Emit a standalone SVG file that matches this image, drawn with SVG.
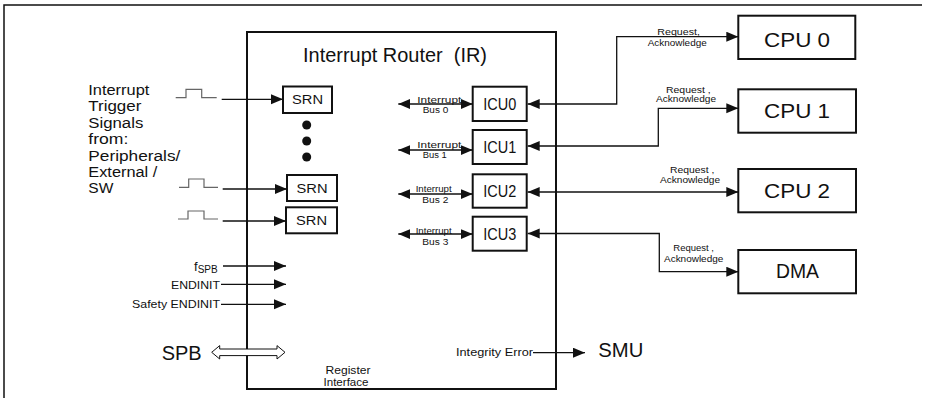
<svg xmlns="http://www.w3.org/2000/svg" width="925" height="398" viewBox="0 0 925 398">
<style>
text{font-family:"Liberation Sans",Arial,sans-serif;fill:#111;}
.box{fill:#fff;stroke:#111;stroke-width:2;}
.ln{fill:none;stroke:#111;stroke-width:1.3;}
.pulse{fill:none;stroke:#666;stroke-width:1.2;}
.big{font-size:19.5px;}
.cpu{font-size:20px;text-anchor:middle;}
.icu{font-size:16px;text-anchor:middle;}
.srn{font-size:12.5px;text-anchor:middle;}
.lbl{font-size:14px;}
.sm{font-size:10.5px;}
.bus{font-size:8.5px;}
.req{font-size:9px;}
</style>
<defs>
<marker id="ah" markerUnits="userSpaceOnUse" markerWidth="13" markerHeight="11" refX="12" refY="5" orient="auto-start-reverse"><path d="M0,0 L12,5 L0,10 z" fill="#111"/></marker>
</defs>
<path d="M4,398 V5 H922" fill="none" stroke="#111" stroke-width="1.5"/>

<g id="ir">
<rect class="box" x="247" y="32" width="309" height="357"/>
<text class="big" x="303" y="61.7" textLength="184" lengthAdjust="spacingAndGlyphs" xml:space="preserve">Interrupt Router  (IR)</text>
<text class="sm" x="348" y="373.5" text-anchor="middle" textLength="45" lengthAdjust="spacingAndGlyphs">Register</text>
<text class="sm" x="346" y="385.5" text-anchor="middle" textLength="45" lengthAdjust="spacingAndGlyphs">Interface</text>
<circle cx="306.7" cy="125" r="4.5" fill="#111"/>
<circle cx="306.7" cy="141" r="4.5" fill="#111"/>
<circle cx="306.7" cy="157" r="4.5" fill="#111"/>
</g>

<g id="srn1"><rect class="box" x="283" y="86.5" width="49" height="26.5"/><text class="srn" x="307.5" y="104" textLength="31" lengthAdjust="spacingAndGlyphs">SRN</text></g>
<g id="srn2"><rect class="box" x="287" y="175" width="50" height="26"/><text class="srn" x="312" y="193" textLength="31" lengthAdjust="spacingAndGlyphs">SRN</text></g>
<g id="srn3"><rect class="box" x="286" y="207.3" width="51" height="26"/><text class="srn" x="311.5" y="225.3" textLength="31" lengthAdjust="spacingAndGlyphs">SRN</text></g>

<g id="icu0"><rect class="box" x="472.7" y="86.7" width="54" height="34.3"/><text class="icu" x="499.7" y="110" textLength="33" lengthAdjust="spacingAndGlyphs">ICU0</text></g>
<g id="icu1"><rect class="box" x="472.7" y="130" width="54" height="34"/><text class="icu" x="499.7" y="153.2" textLength="33" lengthAdjust="spacingAndGlyphs">ICU1</text></g>
<g id="icu2"><rect class="box" x="472.7" y="174.3" width="54" height="33.4"/><text class="icu" x="499.7" y="197" textLength="33" lengthAdjust="spacingAndGlyphs">ICU2</text></g>
<g id="icu3"><rect class="box" x="472.7" y="216.7" width="54" height="34"/><text class="icu" x="499.7" y="239.7" textLength="33" lengthAdjust="spacingAndGlyphs">ICU3</text></g>

<g id="cpu0"><rect class="box" x="738.3" y="15.7" width="117" height="43.3"/><text class="cpu" x="797" y="46.7" textLength="66" lengthAdjust="spacingAndGlyphs">CPU 0</text></g>
<g id="cpu1"><rect class="box" x="738.3" y="89.3" width="117.7" height="43.4"/><text class="cpu" x="797" y="118.3" textLength="66" lengthAdjust="spacingAndGlyphs">CPU 1</text></g>
<g id="cpu2"><rect class="box" x="738.3" y="169" width="117.7" height="43.3"/><text class="cpu" x="797" y="197.7" textLength="66" lengthAdjust="spacingAndGlyphs">CPU 2</text></g>
<g id="dma"><rect class="box" x="738.3" y="250" width="117.7" height="43.3"/><text class="cpu" x="797.5" y="278.3" textLength="43" lengthAdjust="spacingAndGlyphs">DMA</text></g>

<g id="sources">
<text class="lbl" x="88.3" y="95" textLength="61" lengthAdjust="spacingAndGlyphs">Interrupt</text>
<text class="lbl" x="88.3" y="111.4" textLength="53" lengthAdjust="spacingAndGlyphs">Trigger</text>
<text class="lbl" x="88.3" y="127.8" textLength="55" lengthAdjust="spacingAndGlyphs">Signals</text>
<text class="lbl" x="88.3" y="144.2" textLength="40" lengthAdjust="spacingAndGlyphs">from:</text>
<text class="lbl" x="88.3" y="160.6" textLength="92" lengthAdjust="spacingAndGlyphs">Peripherals/</text>
<text class="lbl" x="88.3" y="177" textLength="69" lengthAdjust="spacingAndGlyphs">External /</text>
<text class="lbl" x="88.3" y="193.4" textLength="25" lengthAdjust="spacingAndGlyphs">SW</text>
<polyline class="pulse" points="175.7,97.7 186,97.7 186,89.3 201.7,89.3 201.7,97.7 216.7,97.7"/>
<polyline class="pulse" points="179,187.3 188.7,187.3 188.7,179 204,179 204,187.3 218,187.3"/>
<polyline class="pulse" points="178,219 188,219 188,211 204,211 204,219 218,219"/>
<text x="194" y="271" font-size="13">f<tspan font-size="10" dy="2">SPB</tspan></text>
<text class="sm" x="220" y="289" text-anchor="end" textLength="49" lengthAdjust="spacingAndGlyphs">ENDINIT</text>
<text class="sm" x="220" y="308.3" text-anchor="end" textLength="88" lengthAdjust="spacingAndGlyphs">Safety ENDINIT</text>
<text class="big" x="161.7" y="360" textLength="40" lengthAdjust="spacingAndGlyphs">SPB</text>
</g>

<g id="smu">
<text class="sm" x="533" y="356" text-anchor="end" textLength="77" lengthAdjust="spacingAndGlyphs">Integrity Error</text>
<text class="big" x="598.3" y="357.3" textLength="45" lengthAdjust="spacingAndGlyphs">SMU</text>
</g>

<g id="labels">
<text class="bus" x="417.3" y="102.5" textLength="44" lengthAdjust="spacingAndGlyphs">Interrupt</text>
<text class="bus" x="422.7" y="112.7" textLength="25.6" lengthAdjust="spacingAndGlyphs">Bus 0</text>
<text class="bus" x="417.3" y="148.3" textLength="44" lengthAdjust="spacingAndGlyphs">Interrupt</text>
<text class="bus" x="422.7" y="158.3" textLength="24" lengthAdjust="spacingAndGlyphs">Bus 1</text>
<text class="bus" x="415.7" y="191.7" textLength="36" lengthAdjust="spacingAndGlyphs">Interrupt</text>
<text class="bus" x="422.3" y="202.7" textLength="26" lengthAdjust="spacingAndGlyphs">Bus 2</text>
<text class="bus" x="415.7" y="233.5" textLength="36" lengthAdjust="spacingAndGlyphs">Interrupt</text>
<text class="bus" x="422.3" y="245" textLength="26" lengthAdjust="spacingAndGlyphs">Bus 3</text>
<text class="req" x="657.3" y="35" textLength="42.7" lengthAdjust="spacingAndGlyphs">Request,</text>
<text class="req" x="647.7" y="46" textLength="59" lengthAdjust="spacingAndGlyphs">Acknowledge</text>
<text class="req" x="666" y="93" textLength="44.7" lengthAdjust="spacingAndGlyphs" xml:space="preserve">Request ,</text>
<text class="req" x="656" y="101.7" textLength="60" lengthAdjust="spacingAndGlyphs">Acknowledge</text>
<text class="req" x="670" y="172.7" textLength="44.3" lengthAdjust="spacingAndGlyphs" xml:space="preserve">Request ,</text>
<text class="req" x="660" y="183.3" textLength="60" lengthAdjust="spacingAndGlyphs">Acknowledge</text>
<text class="req" x="673.3" y="251" textLength="40.7" lengthAdjust="spacingAndGlyphs" xml:space="preserve">Request ,</text>
<text class="req" x="664" y="261.7" textLength="59.3" lengthAdjust="spacingAndGlyphs">Acknowledge</text>
</g>

<g id="connectors">
<path class="ln" d="M221.7,99.3 H283" marker-end="url(#ah)"/>
<path class="ln" d="M222.7,189 H287" marker-end="url(#ah)"/>
<path class="ln" d="M222.7,221 H286" marker-end="url(#ah)"/>
<path class="ln" d="M223,266 H286" marker-end="url(#ah)"/>
<path class="ln" d="M221,284.3 H286" marker-end="url(#ah)"/>
<path class="ln" d="M221,304.3 H286" marker-end="url(#ah)"/>
<path class="ln" d="M398.3,104 H472.7" marker-start="url(#ah)" marker-end="url(#ah)"/>
<path class="ln" d="M398.3,150 H472.7" marker-start="url(#ah)" marker-end="url(#ah)"/>
<path class="ln" d="M398.3,194 H472.7" marker-start="url(#ah)" marker-end="url(#ah)"/>
<path class="ln" d="M398.3,234 H472.7" marker-start="url(#ah)" marker-end="url(#ah)"/>
<path class="ln" d="M527.7,104 H616.7 V36.7 H738.3" marker-start="url(#ah)" marker-end="url(#ah)"/>
<path class="ln" d="M527.7,146 H658.3 V108.3 H738.3" marker-start="url(#ah)" marker-end="url(#ah)"/>
<path class="ln" d="M527.7,192 H738.3" marker-start="url(#ah)" marker-end="url(#ah)"/>
<path class="ln" d="M527.7,233.5 H659.3 V271.7 H738.3" marker-start="url(#ah)" marker-end="url(#ah)"/>
<path class="ln" d="M533,352.7 H585" marker-end="url(#ah)"/>
<path d="M211.7,352.3 L219.7,345.6 V349 H277 V345.6 L285,352.3 L277,359 V355.6 H219.7 V359 Z" fill="#fff" stroke="#111" stroke-width="1"/>
</g>
</svg>
